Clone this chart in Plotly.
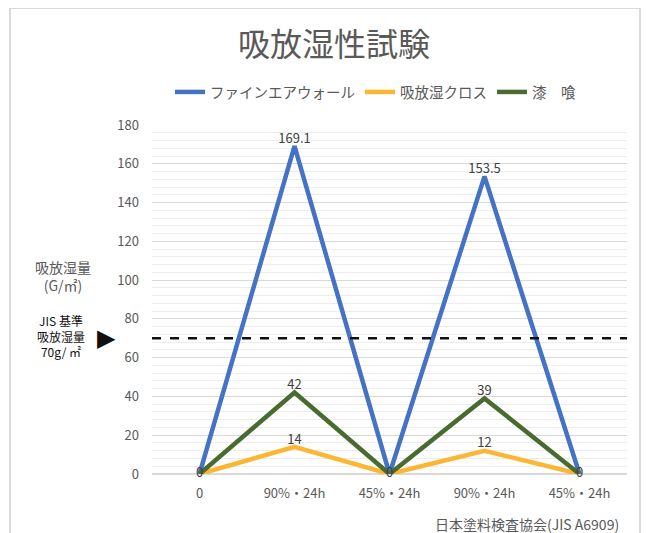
import plotly.graph_objects as go

x_pos = [0, 1, 2, 3, 4]
x_labels = ["0", "90%・24h", "45%・24h", "90%・24h", "45%・24h"]
series_names = ["ファインエアウォール", "吸放湿クロス", "漆　喰"]
fine_air = [0, 169.1, 0, 153.5, 0]
cross = [0, 14, 0, 12, 0]
shikkui = [0, 42, 0, 39, 0]
jis_std = 70
colors = ["#4472C4", "#FBB634", "#4A6B2F"]

FONT = "Noto Sans CJK JP"
W, H = 664, 533
OFF = 8  # page body margin offset

# plot area in reference pixels
L, R, T, B = 152, 627, 125, 474
def px(x):
    return (x - L) / (R - L)
def py(y):
    return (B - y) / (B - T)

fig = go.Figure()

for i, (name, vals, col) in enumerate(zip(series_names, [fine_air, cross, shikkui], colors)):
    labels = []
    for v in vals:
        if v == 0:
            labels.append("0" if i == 2 else "")
        else:
            labels.append("%g" % v)
    fig.add_trace(go.Scatter(
        x=x_pos, y=vals, mode="lines+text", name=name,
        line=dict(color=col, width=4.5),
        text=labels,
        textposition=["middle center" if v == 0 else "top center" for v in vals],
        textfont=dict(family=FONT, size=13, color="#404040"),
        cliponaxis=False,
    ))

fig.add_shape(type="line", xref="paper", yref="y", x0=0, x1=1, y0=jis_std, y1=jis_std,
              line=dict(color="#111111", width=2.5, dash="dash"))

# frame
fig.add_shape(type="rect", xref="paper", yref="paper", x0=px(10), x1=px(640), y0=py(560), y1=py(8),
              line=dict(color="#D0D0D0", width=1.5), layer="below")

fig.add_annotation(x=px(63), y=py(276), xref="paper", yref="paper", text="吸放湿量<br>(G/㎡)",
                   xanchor="center", yanchor="middle",
                   showarrow=False, font=dict(family=FONT, size=14, color="#595959"), align="center")
fig.add_annotation(x=px(61), y=py(336), xref="paper", yref="paper", text="JIS 基準<br>吸放湿量<br>70g/ ㎡",
                   xanchor="center", yanchor="middle",
                   showarrow=False, font=dict(family=FONT, size=12, color="#111111"), align="center")
fig.add_annotation(x=px(106), y=jis_std, xref="paper", yref="y", text="▶",
                   xanchor="center", yanchor="middle",
                   showarrow=False, font=dict(family="DejaVu Sans", size=24, color="#111111"))
fig.add_annotation(x=px(621), y=py(524), xref="paper", yref="paper", text="日本塗料検査協会(JIS A6909)",
                   showarrow=False, xanchor="right", yanchor="middle",
                   font=dict(family=FONT, size=14, color="#595959"))

fig.update_layout(
    width=W, height=H,
    margin=dict(l=L - OFF, r=W - R + OFF, t=T - OFF, b=H - B + OFF, autoexpand=False),
    paper_bgcolor="white", plot_bgcolor="white",
    title=dict(text="吸放湿性試験", x=(334 - OFF) / W, xanchor="center", y=1 - (45 - OFF) / H,
               yanchor="middle", font=dict(family=FONT, size=32, color="#595959")),
    legend=dict(orientation="h", x=px(170), xanchor="left", y=py(92), yanchor="middle",
                font=dict(family=FONT, size=14.5, color="#595959"), itemwidth=30,
                traceorder="normal"),
    showlegend=True,
    font=dict(family=FONT, color="#595959"),
)
fig.update_xaxes(range=[-0.5, 4.5], tickvals=x_pos, ticktext=x_labels, showgrid=False,
                 zeroline=False, showline=False, ticks="", ticklabelstandoff=10,
                 tickfont=dict(family=FONT, size=13, color="#595959"))
fig.update_yaxes(range=[0, 180], dtick=20, showgrid=True, gridcolor="#D9D9D9", gridwidth=1.2,
                 zeroline=True, zerolinecolor="#D9D9D9", ticks="", ticklabelstandoff=12,
                 minor=dict(dtick=4, showgrid=True, gridcolor="#EDEDED", gridwidth=1),
                 tickfont=dict(family=FONT, size=13, color="#595959"))

fig.write_html("out.html")
